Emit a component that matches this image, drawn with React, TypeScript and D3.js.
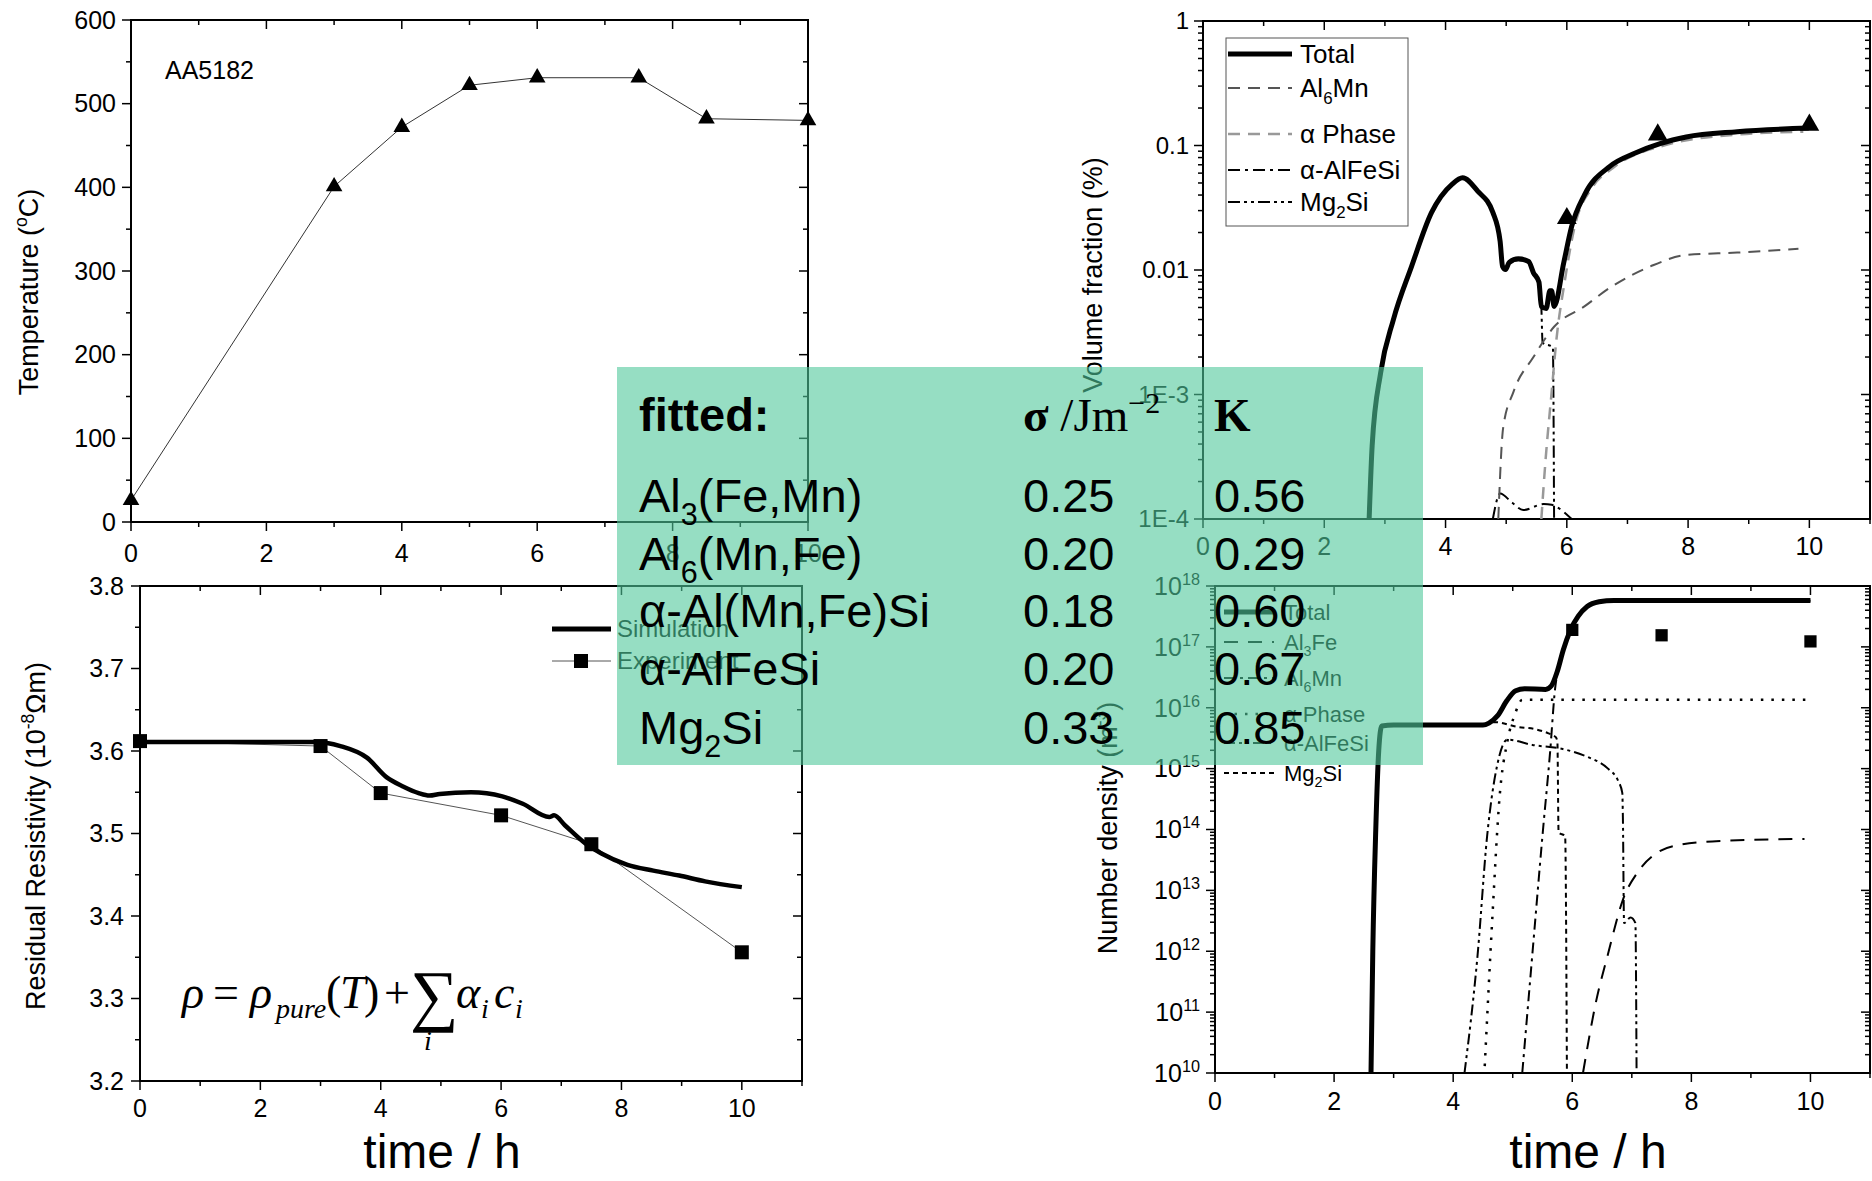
import React from 'react';
import * as d3 from 'd3';

const FONT = '"Liberation Sans", Arial, sans-serif';
const SERIF = '"Liberation Serif", "Times New Roman", serif';

// --- temperature profile (top left)
const tempTime = [0, 3, 4, 5, 6, 7.5, 8.5, 10];
const tempValue = [26, 401, 472, 522, 531, 531, 482, 480];

// --- volume fraction (top right), [time h, %]
const vfTotal: [number, number][] = [
  [2.74, 1e-4], [2.79, 3.9e-4], [2.93, 1.5e-3], [3.14, 4e-3], [3.44, 0.0107], [3.77, 0.029],
  [4.11, 0.049], [4.28, 0.055], [4.53, 0.043], [4.78, 0.029], [4.9, 0.017], [4.94, 0.0107],
  [4.99, 0.0101], [5.05, 0.0115], [5.2, 0.0123], [5.37, 0.0117], [5.45, 0.0095], [5.54, 0.008],
  [5.58, 0.0051], [5.66, 0.0049], [5.72, 0.0068], [5.75, 0.0068], [5.79, 0.0051], [5.95, 0.0115],
  [6.08, 0.0224], [6.29, 0.04], [6.71, 0.068], [7.13, 0.087], [7.55, 0.104], [7.97, 0.117],
  [8.81, 0.129], [9.99, 0.138],
];
const vfAl6Mn: [number, number][] = [
  [4.87, 1e-4], [4.95, 5.4e-4], [5.12, 1.05e-3], [5.45, 2e-3], [5.79, 3.5e-3], [6.29, 5.1e-3],
  [6.71, 7.2e-3], [7.38, 0.0107], [7.97, 0.0132], [8.81, 0.0138], [9.82, 0.0148],
];
const vfAlpha: [number, number][] = [
  [5.58, 1e-4], [5.65, 3e-4], [5.75, 1.05e-3], [5.83, 2.8e-3], [5.96, 7.8e-3], [6.13, 0.0224],
  [6.42, 0.046], [6.76, 0.066], [7.6, 0.1], [8.87, 0.123], [9.9, 0.129],
];
const vfAlFeSi: [number, number][] = [
  [4.78, 1e-4], [4.9, 1.6e-4], [5.1, 1.35e-4], [5.28, 1.18e-4], [5.62, 1.32e-4], [5.75, 1.3e-4],
  [5.83, 1.25e-4], [6.08, 1e-4],
];
const vfMg2Si: [number, number][] = [
  [2.74, 1e-4], [2.79, 3.9e-4], [2.93, 1.5e-3], [3.14, 4e-3], [3.44, 0.0107], [3.77, 0.029],
  [4.11, 0.049], [4.28, 0.055], [4.53, 0.043], [4.78, 0.029], [4.9, 0.017], [4.94, 0.0107],
  [4.99, 0.0101], [5.05, 0.0113], [5.2, 0.012], [5.37, 0.0114], [5.45, 0.0093], [5.54, 0.0078],
  [5.58, 0.005], [5.6, 2.6e-3], [5.77, 2.4e-3], [5.79, 1e-4],
];
const vfExpTime = [6, 7.5, 10];
const vfExpValue = [0.026, 0.122, 0.146];

// --- resistivity (bottom left)
const simTime = [0, 2.9, 3.33, 3.77, 4.1, 4.37, 4.63, 4.81, 4.98, 5.5, 6.02, 6.36, 6.8, 6.88, 7.06, 7.4, 7.66, 8.1, 8.53, 8.96, 9.39, 10];
const simRho = [3.611, 3.611, 3.606, 3.592, 3.568, 3.557, 3.549, 3.546, 3.548, 3.55, 3.545, 3.536, 3.52, 3.522, 3.51, 3.488, 3.476, 3.462, 3.455, 3.449, 3.442, 3.435];
const expTime = [0, 3, 4, 6, 7.5, 10];
const expRho = [3.612, 3.606, 3.549, 3.522, 3.487, 3.356];

// --- number density (bottom right), [time h, m^-3]
const ndTotal: [number, number][] = [
  [2.62, 1e10], [2.65, 1e12], [2.7, 1e14], [2.75, 2e15], [2.8, 5e15], [3, 5.2e15], [4.5, 5.2e15],
  [4.6, 5.6e15], [4.75, 7.5e15], [4.9, 1.3e16], [5.05, 1.9e16], [5.2, 2.05e16], [5.55, 2e16],
  [5.65, 2.3e16], [5.75, 4e16], [5.85, 9e16], [5.97, 1.9e17], [6.1, 3.2e17], [6.25, 4.6e17],
  [6.45, 5.5e17], [6.7, 5.8e17], [10, 5.8e17],
];
const ndAl3Fe: [number, number][] = [
  [6.18, 1e10], [6.4, 1.5e11], [6.6, 9e11], [6.85, 7e12], [7.1, 2e13], [7.4, 4e13], [7.8, 5.6e13],
  [8.5, 6.5e13], [9.9, 7e13],
];
const ndAl6Mn: [number, number][] = [
  [5.16, 1e10], [5.33, 9e11], [5.5, 8e13], [5.63, 2e15], [5.71, 2e16], [5.8, 5.6e16],
  [5.9, 1.2e17], [5.97, 1.8e17], [6.1, 3.1e17], [6.25, 4.5e17], [6.45, 5.4e17], [6.7, 5.7e17], [10, 5.7e17],
];
const ndAlpha: [number, number][] = [
  [4.53, 1.3e10], [4.66, 3.9e12], [4.78, 3.5e14], [4.91, 2.8e15], [5.04, 8e15], [5.16, 1.35e16], [10, 1.35e16],
];
const ndAlFeSi: [number, number][] = [
  [4.19, 1e10], [4.41, 8.7e11], [4.57, 7.8e13], [4.74, 1.15e15], [4.91, 3e15], [5.33, 2.45e15],
  [5.84, 2.1e15], [6.26, 1.55e15], [6.6, 1e15], [6.77, 6.3e14], [6.84, 4e14], [6.85, 1.6e14],
  [6.87, 2.9e12], [6.98, 3.6e12], [7.06, 2.9e12], [7.08, 1e10],
];
const ndMg2Si: [number, number][] = [
  [2.62, 1e10], [2.65, 1e12], [2.7, 1e14], [2.75, 2e15], [2.8, 5e15], [3, 5.2e15], [4.5, 5.2e15],
  [4.7, 5.8e15], [5.1, 4.8e15], [5.35, 4.5e15], [5.6, 3.8e15], [5.72, 3.3e15], [5.75, 2.8e15],
  [5.77, 9e13], [5.88, 7.8e13], [5.91, 1e10],
];
const ndExpTime = [6, 7.5, 10];
const ndExpValue = [1.9e17, 1.55e17, 1.23e17];

// --- fitted parameter table
const phaseNames = ['Al_{3}(Fe,Mn)', 'Al_{6}(Mn,Fe)', 'α-Al(Mn,Fe)Si', 'α-AlFeSi', 'Mg_{2}Si'];
const sigmaFit = ['0.25', '0.20', '0.18', '0.20', '0.33'];
const kFit = ['0.56', '0.29', '0.60', '0.67', '0.85'];

const vfLegend = ['Total', 'Al_{6}Mn', 'α Phase', 'α-AlFeSi', 'Mg_{2}Si'];
const ndLegend = ['Total', 'Al_{3}Fe', 'Al_{6}Mn', 'α Phase', 'α-AlFeSi', 'Mg_{2}Si'];

// scales
const tlX = d3.scaleLinear().domain([0, 10]).range([131, 808]);
const tlY = d3.scaleLinear().domain([0, 600]).range([522, 20]);
const trX = d3.scaleLinear().domain([0, 11]).range([1203, 1870]);
const trY = d3.scaleLog().domain([1e-4, 1]).range([519, 21]);
const blX = d3.scaleLinear().domain([0, 11]).range([140, 802]);
const blY = d3.scaleLinear().domain([3.2, 3.8]).range([1081, 586]);
const brX = d3.scaleLinear().domain([0, 11]).range([1215, 1870]);
const brY = d3.scaleLog().domain([1e10, 1e18]).range([1073, 586]);

// text with _{sub} and ^{sup}
function rich(s: string, size: number) {
  const parts: { t: string; k: number }[] = [];
  const re = /([_^])\{([^}]*)\}/g;
  let last = 0;
  let m: RegExpExecArray | null;
  while ((m = re.exec(s))) {
    if (m.index > last) parts.push({ t: s.slice(last, m.index), k: 0 });
    parts.push({ t: m[2], k: m[1] === '_' ? 1 : -1 });
    last = re.lastIndex;
  }
  if (last < s.length) parts.push({ t: s.slice(last), k: 0 });
  let cur = 0;
  return parts.map((p, i) => {
    const target = p.k > 0 ? size * 0.28 : p.k < 0 ? -size * 0.4 : 0;
    const dy = target - cur;
    cur = target;
    return (
      <tspan key={i} dy={dy} fontSize={p.k ? size * 0.65 : size}>
        {p.t}
      </tspan>
    );
  });
}

function logMinor(lo: number, hi: number) {
  const out: number[] = [];
  for (let e = lo; e < hi; e++) for (let k = 2; k < 10; k++) out.push(k * Math.pow(10, e));
  return out;
}

function Frame({ x, y, xMajor, xMinor, yMajor, yMinor }: any) {
  const [L, R] = x.range();
  const [B, T] = y.range();
  const M = 9;
  const m = 5;
  const els: React.ReactNode[] = [];
  xMajor.forEach((v: number, i: number) => {
    const p = x(v);
    els.push(<line key={'xb' + i} x1={p} x2={p} y1={B} y2={B + M} />);
    els.push(<line key={'xt' + i} x1={p} x2={p} y1={T} y2={T + M} />);
  });
  xMinor.forEach((v: number, i: number) => {
    const p = x(v);
    els.push(<line key={'xbm' + i} x1={p} x2={p} y1={B} y2={B + m} />);
    els.push(<line key={'xtm' + i} x1={p} x2={p} y1={T} y2={T + m} />);
  });
  yMajor.forEach((v: number, i: number) => {
    const p = y(v);
    els.push(<line key={'yl' + i} x1={L - M} x2={L} y1={p} y2={p} />);
    els.push(<line key={'yr' + i} x1={R - M} x2={R} y1={p} y2={p} />);
  });
  yMinor.forEach((v: number, i: number) => {
    const p = y(v);
    els.push(<line key={'ylm' + i} x1={L - m} x2={L} y1={p} y2={p} />);
    els.push(<line key={'yrm' + i} x1={R - m} x2={R} y1={p} y2={p} />);
  });
  return (
    <g stroke="#000" strokeWidth={1.5} fill="none">
      {els}
      <rect x={L} y={T} width={R - L} height={B - T} strokeWidth={2} />
    </g>
  );
}

function XLabels({ x, y, vals, off = 38, size = 25 }: any) {
  const B = y.range()[0];
  return (
    <g fontFamily={FONT} fontSize={size} textAnchor="middle">
      {vals.map((v: number) => (
        <text key={v} x={x(v)} y={B + off}>
          {v}
        </text>
      ))}
    </g>
  );
}

function YLabels({ x, y, vals, labels, gap = 15, size = 25 }: any) {
  const L = x.range()[0];
  return (
    <g fontFamily={FONT} fontSize={size} textAnchor="end">
      {vals.map((v: number, i: number) => (
        <text key={i} x={L - gap} y={y(v) + size * 0.35}>
          {labels ? rich(labels[i], size) : v}
        </text>
      ))}
    </g>
  );
}

function VTitle({ x, y, text, size = 27 }: any) {
  return (
    <text transform={`translate(${x},${y}) rotate(-90)`} textAnchor="middle" fontFamily={FONT} fontSize={size}>
      {rich(text, size)}
    </text>
  );
}

const tri = d3.symbol(d3.symbolTriangle);
const sq = d3.symbol(d3.symbolSquare);

export default function App() {
  const tlLine = d3.line<number>().x((_, i) => tlX(tempTime[i])).y((d) => tlY(d))(tempValue) || '';
  const pairLine = (x: any, y: any) =>
    d3.line<[number, number]>().x((d) => x(d[0])).y((d) => y(d[1])).curve(d3.curveMonotoneX);
  const trL = pairLine(trX, trY);
  const brL = pairLine(brX, brY);
  const simLine = d3.line<number>().x((_, i) => blX(simTime[i])).y((d) => blY(d)).curve(d3.curveMonotoneX)(simRho) || '';
  const expLine = d3.line<number>().x((_, i) => blX(expTime[i])).y((d) => blY(d))(expRho) || '';

  const trLegendY = [54, 88, 134, 170, 202];
  const trStyles = [
    { stroke: '#000', w: 5, dash: '' },
    { stroke: '#555', w: 2, dash: '12 8' },
    { stroke: '#999', w: 2.5, dash: '12 8' },
    { stroke: '#000', w: 2, dash: '12 5 3 5' },
    { stroke: '#000', w: 2, dash: '12 4 3 4 3 4' },
  ];
  const brLegendY = [612, 642, 678, 714, 743, 773];
  const brStyles = [
    { stroke: '#000', w: 5, dash: '' },
    { stroke: '#000', w: 2, dash: '14 10' },
    { stroke: '#000', w: 2, dash: '11 5 3 5' },
    { stroke: '#000', w: 2.5, dash: '2.5 8' },
    { stroke: '#000', w: 2, dash: '11 4 3 4 3 4' },
    { stroke: '#000', w: 2, dash: '5 4' },
  ];
  const trSeries = [vfTotal, vfAl6Mn, vfAlpha, vfAlFeSi, vfMg2Si];
  const brSeries = [ndTotal, ndAl3Fe, ndAl6Mn, ndAlpha, ndAlFeSi, ndMg2Si];

  const rowY = [512, 570, 627, 685, 744];

  return (
    <svg width={1872} height={1181} style={{ position: 'absolute', left: 0, top: 0, background: '#fff' }}>
      <defs>
        <clipPath id="cTR">
          <rect x={1203} y={21} width={667} height={498} />
        </clipPath>
        <clipPath id="cBR">
          <rect x={1215} y={586} width={655} height={487} />
        </clipPath>
      </defs>

      {/* top left: temperature */}
      <Frame x={tlX} y={tlY} xMajor={d3.range(0, 11, 2)} xMinor={d3.range(1, 10, 2)} yMajor={d3.range(0, 601, 100)} yMinor={d3.range(50, 600, 100)} />
      <XLabels x={tlX} y={tlY} vals={d3.range(0, 11, 2)} off={40} />
      <YLabels x={tlX} y={tlY} vals={d3.range(0, 601, 100)} />
      <VTitle x={38} y={292} text="Temperature (^{o}C)" />
      <text x={165} y={79} fontFamily={FONT} fontSize={25}>AA5182</text>
      <path d={tlLine} fill="none" stroke="#333" strokeWidth={1} />
      {tempValue.map((v, i) => (
        <path key={i} d={tri.size(120)() || ''} transform={`translate(${tlX(tempTime[i])},${tlY(v)})`} fill="#000" />
      ))}

      {/* top right: volume fraction */}
      <Frame x={trX} y={trY} xMajor={d3.range(0, 11, 2)} xMinor={d3.range(1, 12, 2)} yMajor={[1e-4, 1e-3, 1e-2, 1e-1, 1]} yMinor={logMinor(-4, 0)} />
      <XLabels x={trX} y={trY} vals={d3.range(0, 11, 2)} off={36} />
      <YLabels x={trX} y={trY} vals={[1e-4, 1e-3, 1e-2, 1e-1, 1]} labels={['1E-4', '1E-3', '0.01', '0.1', '1']} gap={14} size={24} />
      <VTitle x={1102} y={275} text="Volume fraction (%)" />
      <g clipPath="url(#cTR)" fill="none">
        {trSeries.map((s, i) => (
          <path key={i} d={trL(s) || ''} stroke={trStyles[i].stroke} strokeWidth={trStyles[i].w} strokeDasharray={trStyles[i].dash} />
        )).reverse()}
      </g>
      {vfExpValue.map((v, i) => (
        <path key={i} d={tri.size(170)() || ''} transform={`translate(${trX(vfExpTime[i])},${trY(v)})`} fill="#000" />
      ))}
      <rect x={1226} y={38} width={182} height={188} fill="#fff" stroke="#555" strokeWidth={1} />
      {vfLegend.map((t, i) => (
        <g key={i}>
          <line x1={1228} x2={1292} y1={trLegendY[i]} y2={trLegendY[i]} stroke={trStyles[i].stroke} strokeWidth={trStyles[i].w} strokeDasharray={trStyles[i].dash} />
          <text x={1300} y={trLegendY[i] + 9} fontFamily={FONT} fontSize={26}>{rich(t, 26)}</text>
        </g>
      ))}

      {/* bottom left: resistivity */}
      <Frame x={blX} y={blY} xMajor={d3.range(0, 11, 2)} xMinor={d3.range(1, 12, 2)} yMajor={d3.range(3.2, 3.81, 0.1)} yMinor={d3.range(3.25, 3.8, 0.1)} />
      <XLabels x={blX} y={blY} vals={d3.range(0, 11, 2)} off={36} />
      <YLabels x={blX} y={blY} vals={d3.range(3.2, 3.81, 0.1)} labels={d3.range(3.2, 3.81, 0.1).map((v) => v.toFixed(1))} gap={16} />
      <VTitle x={45} y={836} text="Residual Resistivity (10^{-8}Ωm)" />
      <text x={442} y={1168} textAnchor="middle" fontFamily={FONT} fontSize={48}>time / h</text>
      <path d={expLine} fill="none" stroke="#555" strokeWidth={1} />
      <path d={simLine} fill="none" stroke="#000" strokeWidth={4.5} />
      {expRho.map((v, i) => (
        <path key={i} d={sq.size(196)() || ''} transform={`translate(${blX(expTime[i])},${blY(v)})`} fill="#000" />
      ))}
      <line x1={552} x2={611} y1={629} y2={629} stroke="#000" strokeWidth={5} />
      <text x={617} y={637} fontFamily={FONT} fontSize={24}>Simulation</text>
      <line x1={552} x2={611} y1={661} y2={661} stroke="#555" strokeWidth={1} />
      <path d={sq.size(196)() || ''} transform="translate(581,661)" fill="#000" />
      <text x={617} y={669} fontFamily={FONT} fontSize={24}>Experiment</text>
      <g fontFamily={SERIF} fontStyle="italic" fontSize={46}>
        <text x={182} y={1008}>ρ</text>
        <text x={213} y={1008} fontStyle="normal">=</text>
        <text x={250} y={1008}>ρ</text>
        <text x={276} y={1018} fontSize={28}>pure</text>
        <text x={326} y={1008} fontStyle="normal">(</text>
        <text x={340} y={1008}>T</text>
        <text x={364} y={1008} fontStyle="normal">)</text>
        <text x={384} y={1008} fontStyle="normal">+</text>
        <text x={410} y={1018} fontStyle="normal" fontSize={68}>∑</text>
        <text x={424} y={1050} fontSize={28}>i</text>
        <text x={456} y={1008}>α</text>
        <text x={481} y={1018} fontSize={28}>i</text>
        <text x={494} y={1008}>c</text>
        <text x={515} y={1018} fontSize={28}>i</text>
      </g>

      {/* bottom right: number density */}
      <Frame x={brX} y={brY} xMajor={d3.range(0, 11, 2)} xMinor={d3.range(1, 12, 2)} yMajor={d3.range(10, 19).map((e) => Math.pow(10, e))} yMinor={logMinor(10, 18)} />
      <XLabels x={brX} y={brY} vals={d3.range(0, 11, 2)} off={37} />
      <YLabels x={brX} y={brY} vals={d3.range(10, 19).map((e) => Math.pow(10, e))} labels={d3.range(10, 19).map((e) => `10^{${e}}`)} gap={15} />
      <VTitle x={1117} y={828} text="Number density (m^{-3})" />
      <text x={1588} y={1168} textAnchor="middle" fontFamily={FONT} fontSize={48}>time / h</text>
      <g clipPath="url(#cBR)" fill="none">
        {brSeries.map((s, i) => (
          <path key={i} d={brL(s) || ''} stroke={brStyles[i].stroke} strokeWidth={brStyles[i].w} strokeDasharray={brStyles[i].dash} />
        )).reverse()}
      </g>
      {ndExpValue.map((v, i) => (
        <path key={i} d={sq.size(150)() || ''} transform={`translate(${brX(ndExpTime[i])},${brY(v)})`} fill="#000" />
      ))}
      {ndLegend.map((t, i) => (
        <g key={i}>
          <line x1={1224} x2={1274} y1={brLegendY[i]} y2={brLegendY[i]} stroke={brStyles[i].stroke} strokeWidth={brStyles[i].w} strokeDasharray={brStyles[i].dash} />
          <text x={1284} y={brLegendY[i] + 8} fontFamily={FONT} fontSize={22}>{rich(t, 22)}</text>
        </g>
      ))}

      {/* fitted parameter box */}
      <rect x={617} y={367} width={806} height={398} fill="rgb(80,200,155)" fillOpacity={0.6} />
      <text x={639} y={431} fontFamily={FONT} fontWeight="bold" fontSize={47}>fitted:</text>
      <text x={1023} y={431} fontFamily={SERIF} fontSize={47}>
        <tspan fontWeight="bold">σ</tspan> /Jm<tspan dy={-18} fontSize={30}>−2</tspan>
      </text>
      <text x={1214} y={431} fontFamily={SERIF} fontWeight="bold" fontSize={47}>K</text>
      {phaseNames.map((n, i) => (
        <g key={i} fontFamily={FONT} fontSize={47}>
          <text x={639} y={rowY[i]}>{rich(n, 47)}</text>
          <text x={1023} y={rowY[i]}>{sigmaFit[i]}</text>
          <text x={1214} y={rowY[i]}>{kFit[i]}</text>
        </g>
      ))}
    </svg>
  );
}
